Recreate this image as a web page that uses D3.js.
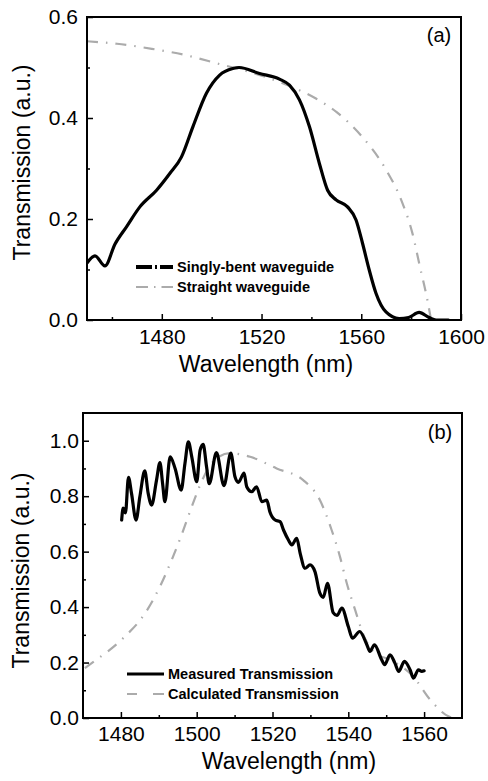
<!DOCTYPE html>
<html>
<head>
<meta charset="utf-8">
<script src="https://cdn.jsdelivr.net/npm/d3@7"></script>
<style>
  body { margin: 0; background: #fff; }
  text { font-family: "Liberation Sans", Arial, sans-serif; fill: #000; }
</style>
</head>
<body>
<svg id="svg1" width="488" height="781"></svg>
<script>
// ---- panel (a) data ----
var bentWl = [1450, 1453.2, 1457.2, 1461.2, 1465.9, 1471.2, 1477.9, 1483.2, 1487.9, 1492.5, 1497.9, 1503.2, 1508.5, 1511,
  1519.2, 1527.2, 1531.2, 1535.2, 1539.2, 1543.2, 1546.5, 1549.9, 1554.5, 1557.9, 1560.5, 1563.2, 1565.9, 1569.9,
  1575.2, 1579, 1583.2, 1587.2, 1590, 1595];
var bentT = [0.113, 0.127, 0.107, 0.15, 0.185, 0.224, 0.257, 0.29, 0.323, 0.383, 0.449, 0.485, 0.498, 0.5,
  0.488, 0.477, 0.465, 0.436, 0.383, 0.31, 0.257, 0.238, 0.224, 0.198, 0.152, 0.099, 0.053, 0.016,
  0.003, 0.005, 0.015, 0.005, 0.0, 0.0];

var straightWl = [1450, 1462, 1476, 1490, 1503, 1516, 1530, 1542, 1550, 1560, 1570, 1576, 1580.5, 1583.5, 1586.5, 1588];
var straightT = [0.552, 0.547, 0.537, 0.524, 0.507, 0.49, 0.466, 0.438, 0.412, 0.365, 0.297, 0.238, 0.172, 0.106, 0.04, 0.0];

var ticksA_x = [1480, 1520, 1560, 1600];
var minorA_x = [1460, 1500, 1540, 1580];
var ticksA_y = [0.0, 0.2, 0.4, 0.6];
var minorA_y = [0.1, 0.3, 0.5];

// ---- panel (b) data ----
var measWl = [1480.2, 1480.6, 1481.2, 1482, 1482.8, 1484, 1485, 1486.3, 1487.2, 1488.1, 1489.4, 1490.3, 1491, 1491.6,
  1493, 1494.3, 1495.9, 1496.9, 1497.8, 1498.7, 1500, 1500.9, 1501.7, 1502.6, 1503.3, 1505.2, 1507.2, 1509, 1510.1,
  1511, 1512.5, 1513.2, 1514.5, 1515.8, 1517.2, 1518.5, 1519.3, 1520.7, 1522, 1522.9, 1524.2, 1525.1, 1526.4, 1527.3,
  1528.6, 1529.9, 1531.2, 1532.5, 1533.4, 1534.5, 1536, 1537, 1538.3, 1540, 1541.1, 1543, 1544.9, 1545.7, 1546.9,
  1548.8, 1549.6, 1551, 1552.3, 1553.3, 1554.8, 1556.3, 1557.2, 1558.5, 1559.4, 1560];
var measT = [0.714, 0.757, 0.74, 0.868, 0.81, 0.714, 0.798, 0.891, 0.81, 0.768, 0.858, 0.921, 0.846, 0.78,
  0.942, 0.9, 0.822, 0.918, 0.996, 0.942, 0.852, 0.966, 0.987, 0.906, 0.845, 0.957, 0.838, 0.955, 0.87,
  0.85, 0.883, 0.834, 0.816, 0.834, 0.78, 0.786, 0.744, 0.714, 0.708, 0.678, 0.642, 0.624, 0.648, 0.594,
  0.54, 0.552, 0.528, 0.45, 0.435, 0.486, 0.38, 0.37, 0.396, 0.33, 0.288, 0.312, 0.264, 0.24, 0.264,
  0.21, 0.192, 0.228, 0.198, 0.168, 0.204, 0.174, 0.144, 0.174, 0.168, 0.17];

var calcWl = [1470.5, 1472.3, 1480.6, 1486.4, 1490.3, 1493.4, 1496, 1498.7, 1501.7, 1505.3, 1508.8, 1514.1, 1521.1,
  1528.1, 1532.5, 1535.6, 1537.8, 1539.6, 1541.8, 1544, 1547, 1551, 1557.1, 1561.6, 1566.4, 1567.5];
var calcT = [0.18, 0.198, 0.288, 0.378, 0.474, 0.57, 0.66, 0.762, 0.865, 0.937, 0.955, 0.942, 0.9,
  0.858, 0.786, 0.678, 0.582, 0.486, 0.39, 0.3, 0.234, 0.21, 0.15, 0.066, 0.006, 0];

var ticksB_x = [1480, 1500, 1520, 1540, 1560];
var minorB_x = [1490, 1510, 1530, 1550];
var ticksB_y = [0.0, 0.2, 0.4, 0.6, 0.8, 1.0];
var minorB_y = [0.1, 0.3, 0.5, 0.7, 0.9];

var svg = d3.select('#svg1');
var gray = '#ababab';
var grayDash = '11,8,1.5,8';

function zip(xs, ys) { return xs.map(function(x, i) { return {x: x, y: ys[i]}; }); }

function drawPanel(opt) {
  var x = d3.scaleLinear().domain(opt.xDomain).range([opt.left, opt.right]);
  var y = d3.scaleLinear().domain(opt.yDomain).range([opt.bottom, opt.top]);
  var g = svg.append('g');

  var line = d3.line()
    .x(function(d) { return x(d.x); })
    .y(function(d) { return y(d.y); })
    .curve(d3.curveMonotoneX);

  var clipId = 'clip' + opt.name;
  g.append('clipPath').attr('id', clipId).append('rect')
    .attr('x', opt.left).attr('y', opt.top)
    .attr('width', opt.right - opt.left).attr('height', opt.bottom - opt.top);

  var plot = g.append('g').attr('clip-path', 'url(#' + clipId + ')');
  opt.series.forEach(function(s) {
    plot.append('path')
      .datum(zip(s.xs, s.ys))
      .attr('d', line)
      .attr('fill', 'none')
      .attr('stroke', s.color)
      .attr('stroke-width', s.width)
      .attr('stroke-dasharray', s.dash)
      .attr('stroke-linejoin', 'round')
      .attr('stroke-linecap', s.dash ? 'butt' : 'round');
  });

  // axes, ticks inward
  g.append('g').attr('transform', 'translate(0,' + opt.bottom + ')')
    .call(d3.axisBottom(x).tickValues(opt.xTicks).tickFormat(d3.format('d')).tickSize(-6).tickPadding(opt.xPad));
  g.append('g').attr('transform', 'translate(0,' + opt.bottom + ')')
    .call(d3.axisBottom(x).tickValues(opt.xMinor).tickFormat('').tickSize(-3));
  g.append('g').attr('transform', 'translate(' + opt.left + ',0)')
    .call(d3.axisLeft(y).tickValues(opt.yTicks).tickFormat(d3.format('.1f')).tickSize(-6).tickPadding(opt.yPad));
  g.append('g').attr('transform', 'translate(' + opt.left + ',0)')
    .call(d3.axisLeft(y).tickValues(opt.yMinor).tickFormat('').tickSize(-3));

  g.selectAll('.domain').remove();
  g.selectAll('.tick line').attr('stroke', '#000').attr('stroke-width', 1.5);
  g.selectAll('.tick text').style('font-size', '21px').attr('font-family', '"Liberation Sans", Arial, sans-serif');

  g.append('rect')
    .attr('x', opt.left).attr('y', opt.top)
    .attr('width', opt.right - opt.left).attr('height', opt.bottom - opt.top)
    .attr('fill', 'none').attr('stroke', '#000').attr('stroke-width', 2);

  // axis titles
  g.append('text')
    .attr('transform', 'translate(' + [opt.yTitleX, (opt.top + opt.bottom) / 2 + opt.yTitleShift] + ') rotate(270)')
    .attr('text-anchor', 'middle')
    .style('font-size', '23px')
    .text('Transmission (a.u.)');
  g.append('text')
    .attr('x', opt.xTitleX).attr('y', opt.xTitleY)
    .attr('text-anchor', 'middle')
    .style('font-size', '23px')
    .text('Wavelength (nm)');

  g.append('text')
    .attr('x', opt.right - 22).attr('y', opt.top + 25 + opt.tagShift)
    .attr('text-anchor', 'middle')
    .style('font-size', '20px')
    .text(opt.tag);

  // legend
  opt.legend.forEach(function(l, i) {
    var ly = opt.legY + i * 20;
    g.append('line')
      .attr('x1', opt.legX).attr('x2', opt.legX + 37)
      .attr('y1', ly).attr('y2', ly)
      .attr('stroke', l.color).attr('stroke-width', l.width)
      .attr('stroke-dasharray', l.dash);
    g.append('text')
      .attr('x', opt.legX + 41).attr('y', ly).attr('dy', '0.36em')
      .style('font-size', '14.5px').style('font-weight', 'bold')
      .text(l.label);
  });
}

drawPanel({
  name: 'a', left: 87, right: 461, top: 17, bottom: 320,
  xDomain: [1450, 1600], yDomain: [0, 0.6],
  xTicks: ticksA_x, xMinor: minorA_x, yTicks: ticksA_y, yMinor: minorA_y,
  xPad: 9, yPad: 9,
  yTitleX: 30, yTitleShift: -6, xTitleX: 266, xTitleY: 372,
  tag: '(a)', tagShift: 0,
  series: [
    {xs: straightWl, ys: straightT, color: gray, width: 2.2, dash: grayDash},
    {xs: bentWl, ys: bentT, color: '#000', width: 3.2, dash: null}
  ],
  legX: 136, legY: 267,
  legend: [
    {label: 'Singly-bent waveguide', color: '#000', width: 4, dash: '16,3,2,3'},
    {label: 'Straight waveguide', color: gray, width: 2, dash: '12,6,1.5,6'}
  ]
});

drawPanel({
  name: 'b', left: 83, right: 462, top: 413, bottom: 718,
  xDomain: [1470, 1570], yDomain: [0, 1.1],
  xTicks: ticksB_x, xMinor: minorB_x, yTicks: ticksB_y, yMinor: minorB_y,
  xPad: 8, yPad: 4,
  yTitleX: 29, yTitleShift: 5, xTitleX: 289, xTitleY: 769,
  tag: '(b)', tagShift: 1,
  series: [
    {xs: calcWl, ys: calcT, color: gray, width: 2.2, dash: grayDash},
    {xs: measWl, ys: measT, color: '#000', width: 3.2, dash: null}
  ],
  legX: 127, legY: 674,
  legend: [
    {label: 'Measured Transmission', color: '#000', width: 3, dash: null},
    {label: 'Calculated Transmission', color: gray, width: 2, dash: '10,16,11'}
  ]
});
</script>
</body>
</html>
